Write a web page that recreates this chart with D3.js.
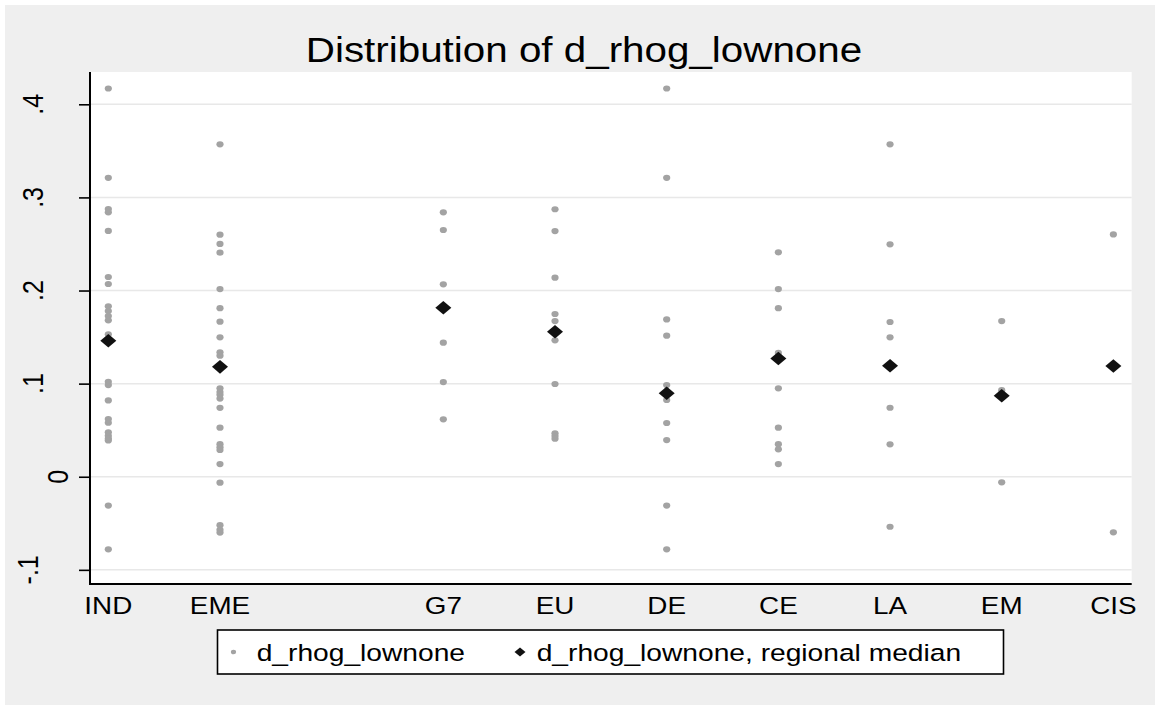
<!DOCTYPE html>
<html>
<head>
<meta charset="utf-8">
<script src="https://cdn.jsdelivr.net/npm/d3@7"></script>
<style>
body { margin: 0; background: #ffffff; }
text { font-family: "Liberation Sans", Arial, sans-serif; fill: #000000; }
</style>
</head>
<body>
<div id="chart"></div>
<script>
// groups and their stata group codes (code 3 is empty)
var groups = ["IND", "EME", "G7", "EU", "DE", "CE", "LA", "EM", "CIS"];
var groupCode = [1, 2, 4, 5, 6, 7, 8, 9, 10];

var valIND = [0.417, 0.321, 0.2875, 0.284, 0.264, 0.2145, 0.207, 0.183, 0.178, 0.1726, 0.168, 0.153, 0.146, 0.102, 0.0985, 0.082, 0.062, 0.058, 0.0477, 0.044, 0.041, 0.039, -0.031, -0.078];
var valEME = [0.357, 0.260, 0.250, 0.2406, 0.2016, 0.181, 0.1665, 0.1497, 0.1336, 0.13, 0.118, 0.095, 0.091, 0.088, 0.084, 0.074, 0.0527, 0.035, 0.0316, 0.0287, 0.0136, -0.0064, -0.052, -0.057, -0.060];
var valG7 = [0.284, 0.265, 0.2067, 0.181, 0.144, 0.1017, 0.0617];
var valEU = [0.2873, 0.2639, 0.2138, 0.1748, 0.1672, 0.1465, 0.0996, 0.0466, 0.0437, 0.0408];
var valDE = [0.417, 0.321, 0.169, 0.1515, 0.0985, 0.0824, 0.0577, 0.0394, -0.031, -0.078];
var valCE = [0.241, 0.2016, 0.181, 0.133, 0.095, 0.0527, 0.035, 0.0294, 0.0136];
var valLA = [0.357, 0.2496, 0.1662, 0.1497, 0.0741, 0.0348, -0.0537];
var valEM = [0.1672, 0.093, -0.006];
var valCIS = [0.2603, -0.0597];

var medians = [0.146, 0.118, 0.1815, 0.1558, 0.0896, 0.127, 0.1192, 0.087, 0.1189];

var yTicks = [-0.1, 0, 0.1, 0.2, 0.3, 0.4];
var yTickLabels = ["-.1", "0", ".1", ".2", ".3", ".4"];

var titleText = "Distribution of d_rhog_lownone";
var legendLabels = ["d_rhog_lownone", "d_rhog_lownone, regional median"];

var allVals = [valIND, valEME, valG7, valEU, valDE, valCE, valLA, valEM, valCIS];

var width = 1155;
var height = 705;
var stretch = 1.16; // stata export is stretched sideways
var plotL = 90, plotR = 1131.7, plotT = 72, plotB = 584;

var points = [];
for (var i = 0; i < groups.length; i++) {
    for (var j = 0; j < allVals[i].length; j++) {
        points.push({code: groupCode[i], v: allVals[i][j]});
    }
}
var medPoints = groups.map(function(g, i) { return {code: groupCode[i], v: medians[i]}; });

var x = d3.scaleLinear().domain([0.836, 10.164]).range([plotL, plotR]);
var y = d3.scaleLinear().domain([-0.1152, 0.4347]).range([plotB, plotT]);

var svg = d3.select("#chart")
    .append("svg")
    .attr("width", width)
    .attr("height", height);

svg.append("rect")
    .attr("x", 0).attr("y", 0)
    .attr("width", width).attr("height", height)
    .attr("fill", "#ffffff");
svg.append("rect")
    .attr("x", 5).attr("y", 5)
    .attr("width", width - 5).attr("height", height - 5)
    .attr("fill", "#efefef");
svg.append("rect")
    .attr("x", plotL).attr("y", plotT)
    .attr("width", plotR - plotL).attr("height", plotB - plotT)
    .attr("fill", "#ffffff");

// title
svg.append("text")
    .attr("transform", "translate(584,62) scale(" + stretch + ",1)")
    .attr("text-anchor", "middle")
    .style("font-size", "34.8px")
    .text(titleText);

// grid
svg.append("g")
    .selectAll("line")
    .data(yTicks)
    .enter()
    .append("line")
    .attr("x1", plotL)
    .attr("x2", plotR)
    .attr("y1", function(d) { return y(d); })
    .attr("y2", function(d) { return y(d); })
    .attr("stroke", "#e8e8e8")
    .attr("stroke-width", 1.5);

// y axis
var yAxis = d3.axisLeft(y)
    .tickValues(yTicks)
    .tickSize(11)
    .tickFormat("");
var gy = svg.append("g")
    .attr("transform", "translate(" + plotL + ",0)")
    .call(yAxis);
gy.select(".domain").remove();
gy.selectAll(".tick line").attr("stroke", "#000").attr("stroke-width", 1.6);

svg.append("g")
    .selectAll("text")
    .data(yTicks)
    .enter()
    .append("text")
    .attr("transform", function(d, i) {
        var lab = yTickLabels[i];
        var bx = lab.length == 1 ? 68 : 43 - (lab.length - 2) * 5;
        return "translate(" + bx + "," + y(d) + ") scale(" + stretch + ",1) rotate(-90)";
    })
    .attr("text-anchor", "middle")
    .style("font-size", "25px")
    .text(function(d, i) { return yTickLabels[i]; });

// x labels
var xAxis = d3.axisBottom(x)
    .tickValues(groupCode)
    .tickSize(0)
    .tickFormat("");
var gx = svg.append("g")
    .attr("transform", "translate(0," + plotB + ")")
    .call(xAxis);
gx.select(".domain").remove();

svg.append("g")
    .selectAll("text")
    .data(groups)
    .enter()
    .append("text")
    .attr("transform", function(d, i) {
        return "translate(" + x(groupCode[i]) + ",613.5) scale(" + stretch + ",1)";
    })
    .attr("text-anchor", "middle")
    .style("font-size", "24px")
    .text(function(d) { return d; });

// axis lines
svg.append("line")
    .attr("x1", plotL).attr("x2", plotL)
    .attr("y1", plotT).attr("y2", plotB)
    .attr("stroke", "#000").attr("stroke-width", 2);
svg.append("line")
    .attr("x1", plotL - 1).attr("x2", plotR)
    .attr("y1", plotB).attr("y2", plotB)
    .attr("stroke", "#000").attr("stroke-width", 2);

// dots
svg.append("g")
    .selectAll("ellipse")
    .data(points)
    .enter()
    .append("ellipse")
    .attr("cx", function(d) { return x(d.code); })
    .attr("cy", function(d) { return y(d.v); })
    .attr("rx", 3.6)
    .attr("ry", 3.1)
    .attr("fill", "#a3a3a3");

// medians
function diamond(cx, cy, hw, hh) {
    return "M" + (cx - hw) + "," + cy + "L" + cx + "," + (cy - hh) + "L" + (cx + hw) + "," + cy + "L" + cx + "," + (cy + hh) + "Z";
}
svg.append("g")
    .selectAll("path")
    .data(medPoints)
    .enter()
    .append("path")
    .attr("d", function(d) { return diamond(x(d.code), y(d.v), 8, 6.8); })
    .attr("fill", "#111111");

// legend
var lg = svg.append("g");
lg.append("rect")
    .attr("x", 217.5).attr("y", 630)
    .attr("width", 786).attr("height", 44)
    .attr("fill", "#ffffff")
    .attr("stroke", "#000")
    .attr("stroke-width", 1.6);
lg.append("ellipse")
    .attr("cx", 233.5).attr("cy", 652)
    .attr("rx", 2.6).attr("ry", 2.3)
    .attr("fill", "#a3a3a3");
lg.append("path")
    .attr("d", diamond(520, 652, 5.5, 4.6))
    .attr("fill", "#111111");
lg.selectAll("text")
    .data(legendLabels)
    .enter()
    .append("text")
    .attr("transform", function(d, i) {
        return "translate(" + (i == 0 ? 256.7 : 536.7) + ",660.5) scale(" + stretch + ",1)";
    })
    .style("font-size", "24.3px")
    .text(function(d) { return d; });
</script>
</body>
</html>
